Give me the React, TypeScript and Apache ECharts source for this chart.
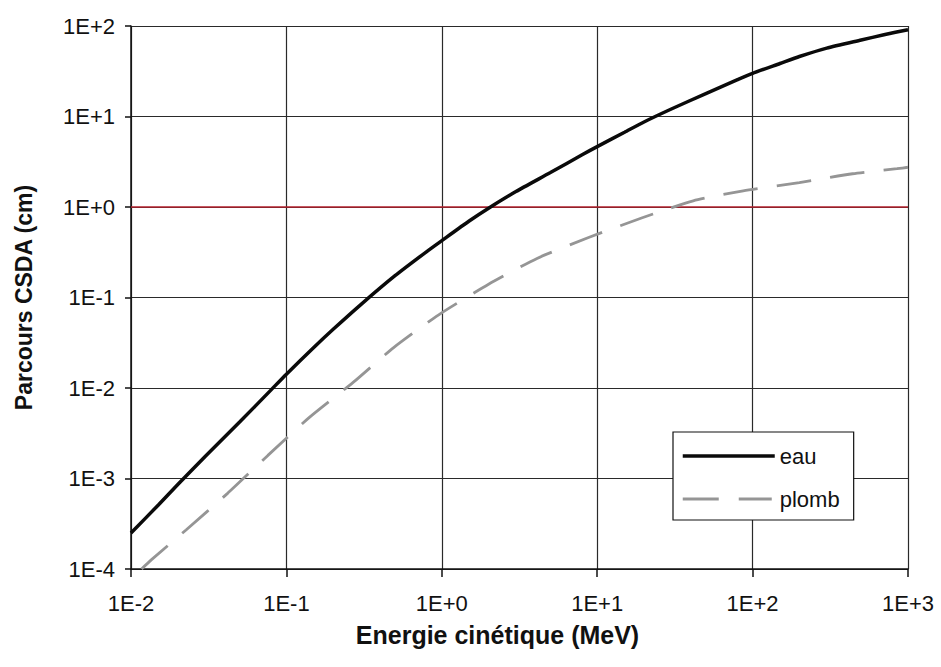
import React, { useEffect, useRef } from "react";
import * as echarts from "echarts";

// Energie cinétique (MeV) / parcours CSDA (cm) — eau
const energyEau = [0.01, 0.015, 0.02, 0.03, 0.05, 0.08, 0.1, 0.15, 0.2, 0.3, 0.5, 0.8, 1, 1.5, 2, 3, 5, 8, 10, 15, 20, 30, 50, 80, 100, 150, 200, 300, 500, 700, 1000];
const rangeEau = [2.5e-4, 5.1e-4, 8.6e-4, 1.75e-3, 4.2e-3, 9.6e-3, 1.42e-2, 2.8e-2, 4.45e-2, 8.3e-2, 0.174, 0.322, 0.425, 0.7, 0.97, 1.48, 2.4, 3.78, 4.65, 6.7, 8.7, 12.1, 17.9, 25.5, 30, 38.5, 46, 57, 70, 80, 91];

// plomb
const energyPlomb = [0.0117, 0.0135, 0.0226, 0.042, 0.076, 0.14, 0.27, 0.49, 0.95, 2, 4.1, 8.8, 19.5, 41.5, 87, 200, 440, 850, 1000];
const rangePlomb = [1.0e-4, 1.26e-4, 2.7e-4, 6.9e-4, 1.8e-3, 4.7e-3, 1.16e-2, 2.8e-2, 6.4e-2, 0.14, 0.27, 0.46, 0.76, 1.17, 1.51, 1.86, 2.33, 2.65, 2.75];

const xTickLabels = ["1E-2", "1E-1", "1E+0", "1E+1", "1E+2", "1E+3"];
const yTickLabels = ["1E-4", "1E-3", "1E-2", "1E-1", "1E+0", "1E+1", "1E+2"];

const seriesNames = ["eau", "plomb"];
const xTitle = "Energie cinétique (MeV)";
const yTitle = "Parcours CSDA (cm)";

const FONT = "'Liberation Sans', Arial, sans-serif";
const EAU_COLOR = "#0a0a0a";
const PLOMB_COLOR = "#959595";
const PLOMB_DASH = [35, 19];
// legend sample for the dashed series: two dashes inside a 92x14 box
const PLOMB_ICON =
  "path://M0,0h0.01v0.01h-0.01Z M91.99,13.99h0.01v0.01h-0.01Z M0,5.5h36v3h-36Z M56,5.5h33v3h-33Z";

export default function App() {
  const ref = useRef<HTMLDivElement>(null);

  useEffect(() => {
    if (!ref.current) return;
    const chart = echarts.init(ref.current, undefined, { renderer: "svg" });
    const xMinExp = -2;
    const yMinExp = -4;
    chart.setOption({
      animation: false,
      backgroundColor: "#ffffff",
      textStyle: { fontFamily: FONT },
      grid: { left: 131, top: 26, right: 33, bottom: 98, containLabel: false },
      legend: {
        orient: "vertical",
        left: 673,
        top: 432,
        padding: [13, 14, 10, 8],
        itemGap: 21,
        itemWidth: 92,
        itemHeight: 14,
        backgroundColor: "#ffffff",
        borderColor: "#111",
        borderWidth: 1.2,
        itemStyle: { opacity: 0 },
        textStyle: { fontSize: 22, color: "#111", fontFamily: FONT },
        data: [
          { name: seriesNames[0], lineStyle: { color: EAU_COLOR, width: 3.5, type: "solid" } },
          {
            name: seriesNames[1],
            icon: PLOMB_ICON,
            itemStyle: { opacity: 1, color: PLOMB_COLOR, borderWidth: 0 },
          },
        ],
      },
      xAxis: {
        type: "log",
        logBase: 10,
        min: 0.01,
        max: 1000,
        interval: 1,
        name: xTitle,
        nameLocation: "middle",
        nameGap: 53,
        nameTextStyle: { fontSize: 25, fontWeight: "bold", color: "#111", fontFamily: FONT, padding: [0, 44, 0, 0] },
        axisLine: { show: true, onZero: false, lineStyle: { color: "#111", width: 1.5 } },
        axisTick: { show: true, length: 8, lineStyle: { color: "#111", width: 1.5 } },
        axisLabel: {
          fontSize: 22,
          color: "#111",
          margin: 23,
          formatter: (v: number) => xTickLabels[Math.round(Math.log10(v)) - xMinExp] ?? "",
        },
        splitLine: { show: true, lineStyle: { color: "#2a2a2a", width: 1.2 } },
        minorTick: { show: false },
      },
      yAxis: {
        type: "log",
        logBase: 10,
        min: 1e-4,
        max: 100,
        interval: 1,
        name: yTitle,
        nameLocation: "middle",
        nameGap: 96,
        nameRotate: 90,
        nameTextStyle: { fontSize: 23, fontWeight: "bold", color: "#111", fontFamily: FONT },
        axisLine: { show: true, onZero: false, lineStyle: { color: "#111", width: 1.5 } },
        axisTick: { show: true, length: 6, lineStyle: { color: "#111", width: 1.5 } },
        axisLabel: {
          fontSize: 22,
          color: "#111",
          margin: 16,
          formatter: (v: number) => yTickLabels[Math.round(Math.log10(v)) - yMinExp] ?? "",
        },
        splitLine: { show: true, lineStyle: { color: "#2a2a2a", width: 1.2 } },
      },
      series: [
        {
          name: seriesNames[0],
          type: "line",
          symbol: "none",
          smooth: 0.2,
          clip: true,
          z: 3,
          lineStyle: { color: EAU_COLOR, width: 3.5 },
          itemStyle: { color: EAU_COLOR },
          data: energyEau.map((e, i) => [e, rangeEau[i]]),
          markLine: {
            silent: true,
            symbol: ["none", "none"],
            label: { show: false },
            lineStyle: { color: "#b3202c", type: "solid", width: 1.5 },
            data: [{ yAxis: 1 }],
            z: 2,
          },
        },
        {
          name: seriesNames[1],
          type: "line",
          symbol: "none",
          smooth: 0.2,
          clip: true,
          z: 3,
          lineStyle: { color: PLOMB_COLOR, width: 2.8, type: PLOMB_DASH },
          itemStyle: { color: PLOMB_COLOR },
          data: energyPlomb.map((e, i) => [e, rangePlomb[i]]),
        },
      ],
    });
    return () => chart.dispose();
  }, []);

  return (
    <div
      ref={ref}
      style={{ position: "fixed", left: 0, top: 0, width: 941, height: 667, background: "#fff" }}
    />
  );
}
